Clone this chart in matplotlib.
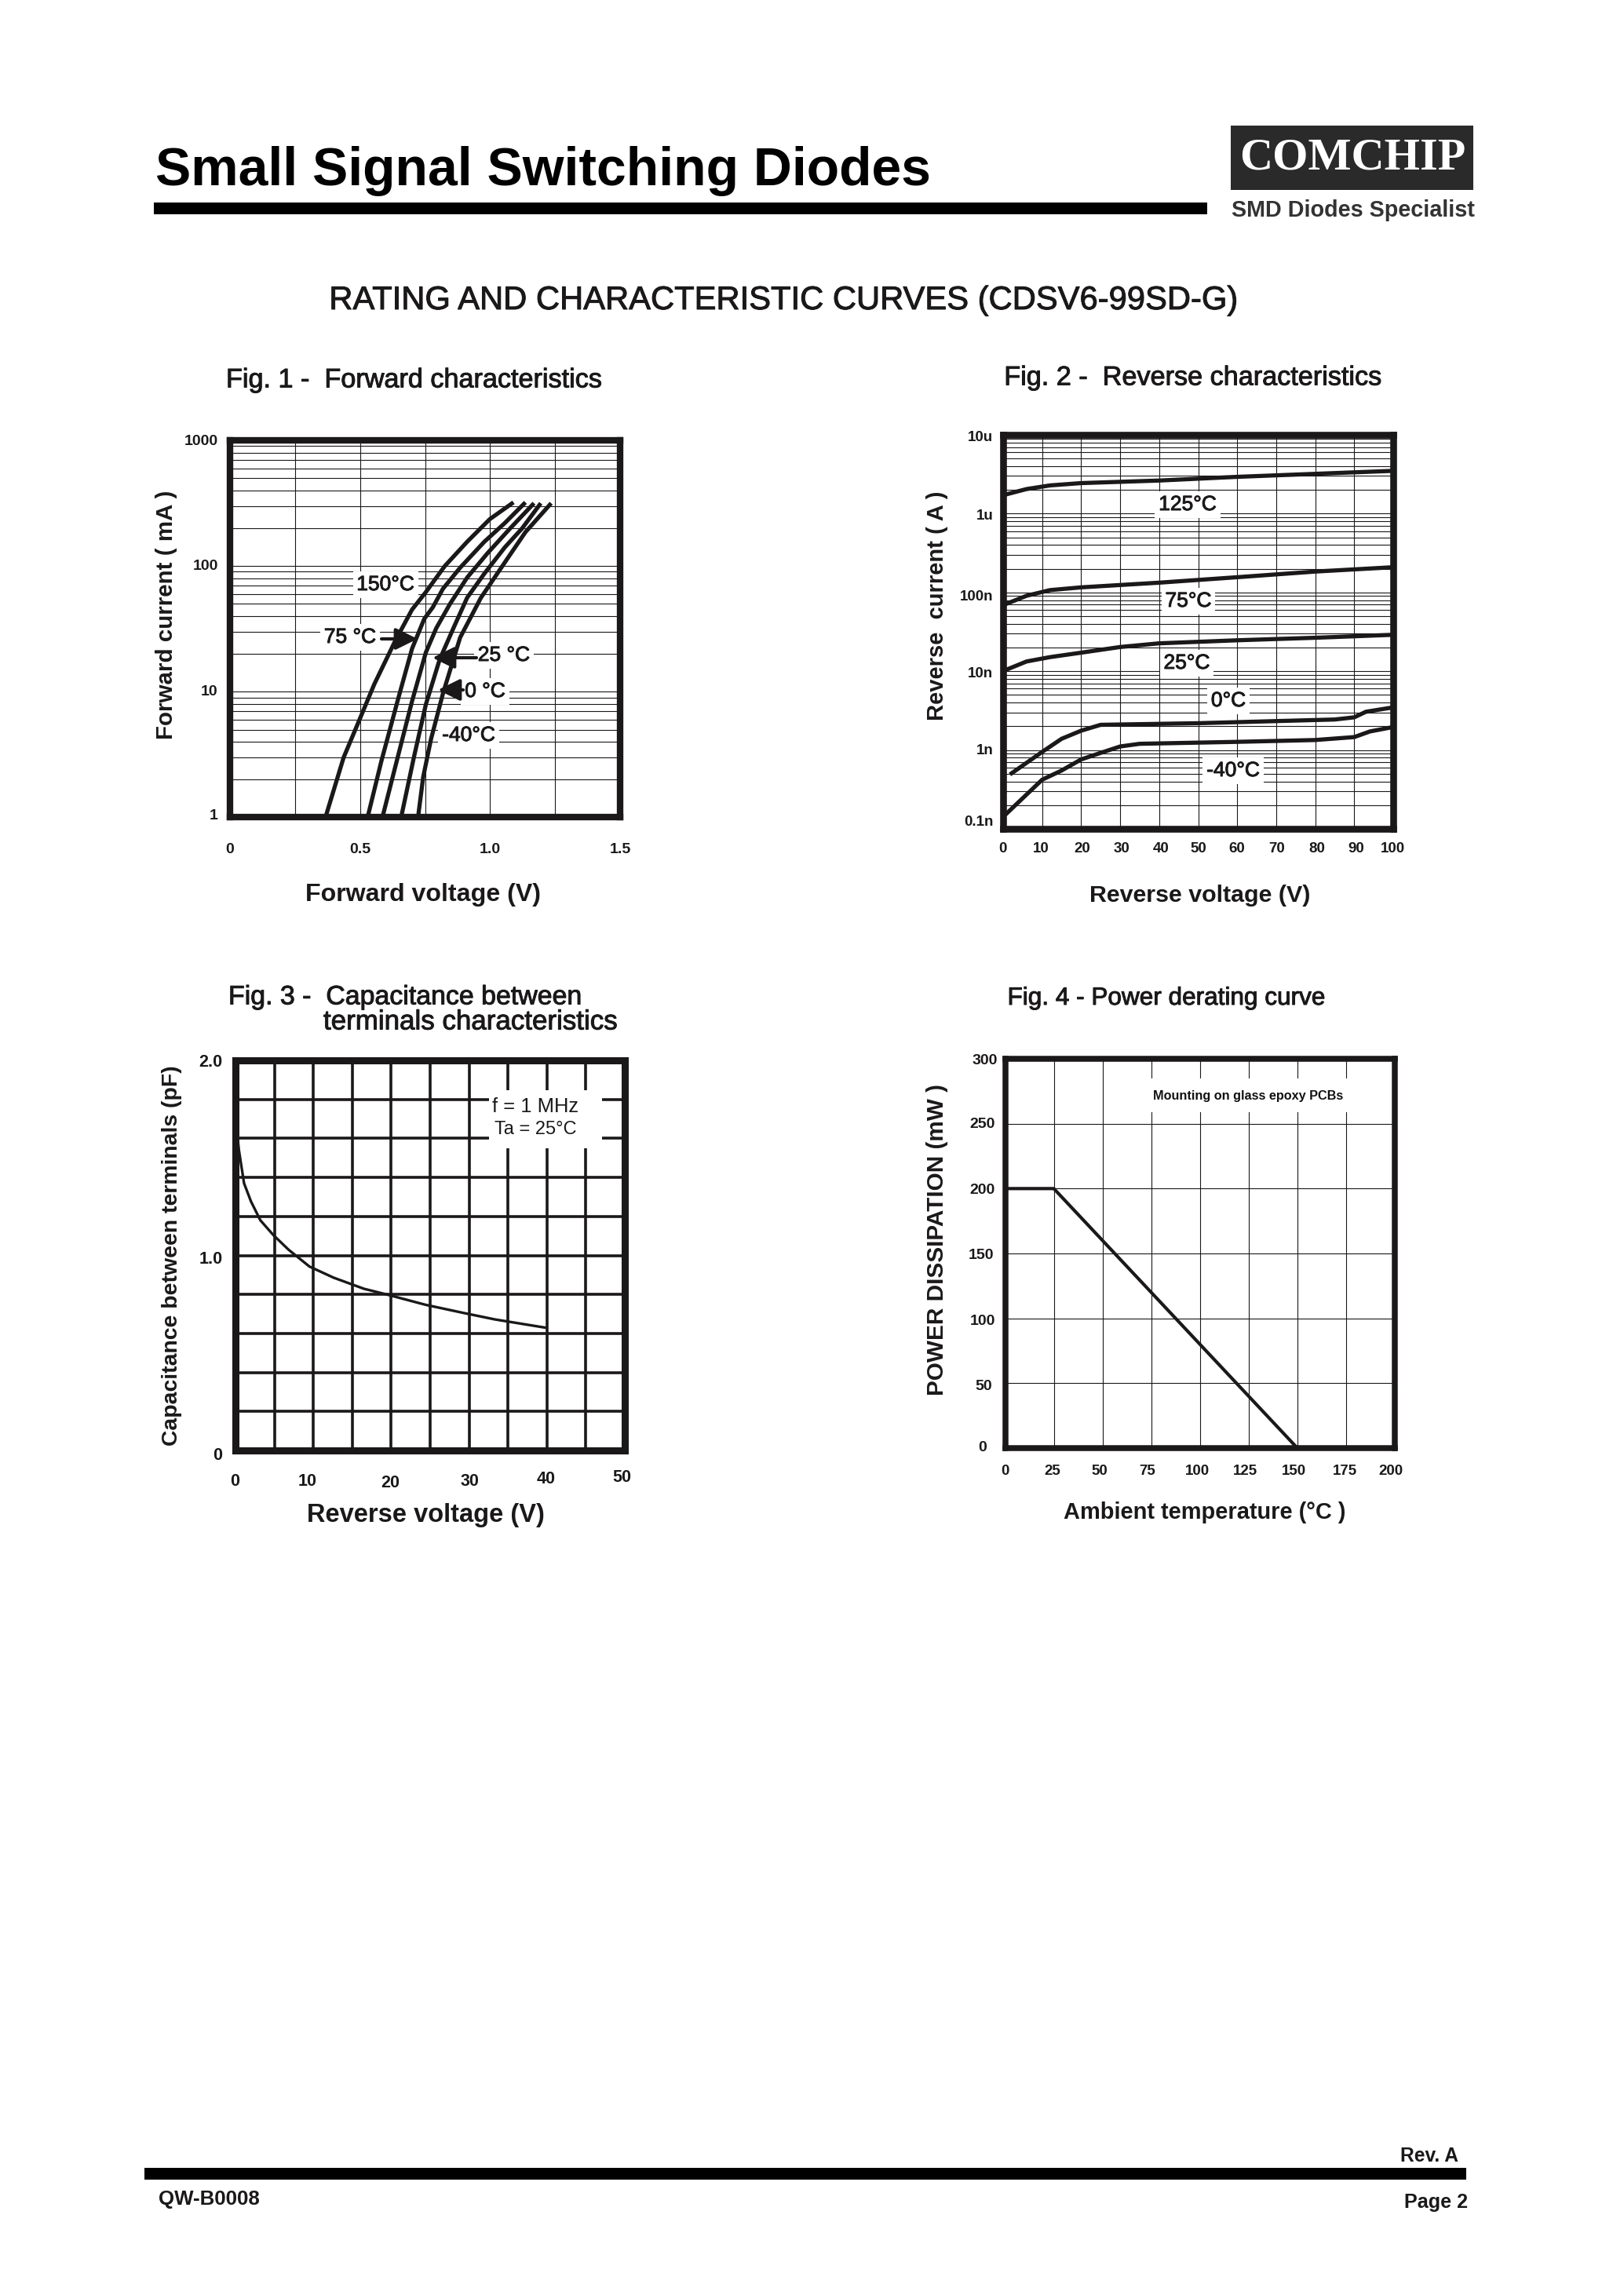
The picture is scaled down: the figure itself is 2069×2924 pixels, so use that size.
import matplotlib
matplotlib.use("Agg")
import matplotlib.pyplot as plt
import matplotlib.patheffects as pe
from matplotlib.patches import Rectangle, FancyArrowPatch
from matplotlib.transforms import Affine2D
from matplotlib.ticker import FixedLocator, NullFormatter

plt.rcParams['font.family'] = ['Liberation Sans', 'DejaVu Sans']

W, H = 2069, 2924
INK = '#1a1818'

# ---- Fig. 1 data: forward voltage (V) / forward current (mA)
f150_v = [0.367, 0.437, 0.492, 0.555, 0.635, 0.700, 0.753, 0.826, 0.912, 0.999, 1.090]
f150_i = [1, 3.0, 5.6, 11.5, 25.3, 45, 62, 100, 156, 236, 321]
f75_v = [0.529, 0.582, 0.648, 0.700, 0.747, 0.780, 0.819, 0.885, 0.978, 1.057, 1.136]
f75_i = [1, 2.8, 9, 22, 38, 47, 66, 97, 156, 220, 321]
f25_v = [0.586, 0.641, 0.700, 0.753, 0.793, 0.846, 0.912, 0.991, 1.077, 1.169]
f25_i = [1, 2.8, 8.4, 20.5, 32, 50, 81, 127, 199, 316]
f0_v = [0.658, 0.707, 0.753, 0.806, 0.859, 0.912, 0.978, 1.057, 1.123, 1.195]
f0_i = [1, 3, 7.9, 18, 32, 56, 87, 141, 199, 316]
fm40_v = [0.723, 0.743, 0.773, 0.819, 0.885, 0.965, 1.057, 1.136, 1.235]
fm40_i = [1, 2.1, 4.2, 9.7, 27, 56, 107, 186, 316]
f1_xticks = [0, 0.5, 1.0, 1.5]
f1_xticklabels = ['0', '0.5', '1.0', '1.5']
f1_yticks = [1, 10, 100, 1000]
f1_yticklabels = ['1', '10', '100', '1000']

# ---- Fig. 2 data: reverse voltage (V) / reverse current (A)
r125_v = [0.5, 6, 12, 20, 40, 60, 80, 100]
r125_i = [1.74e-6, 2.05e-6, 2.28e-6, 2.44e-6, 2.63e-6, 2.93e-6, 3.2e-6, 3.49e-6]
r75_v = [0.5, 6, 12, 20, 40, 60, 80, 100]
r75_i = [7.06e-8, 9.07e-8, 1.07e-7, 1.16e-7, 1.33e-7, 1.56e-7, 1.84e-7, 2.09e-7]
r25_v = [0.5, 6, 12, 20, 30, 40, 60, 80, 100]
r25_i = [1.03e-8, 1.33e-8, 1.51e-8, 1.72e-8, 2.03e-8, 2.26e-8, 2.47e-8, 2.66e-8, 2.9e-8]
r0_v = [1.75, 10, 15, 20, 25, 50, 70, 85, 90, 93, 100]
r0_i = [4.9e-10, 9.46e-10, 1.39e-9, 1.76e-9, 2.09e-9, 2.19e-9, 2.33e-9, 2.44e-9, 2.6e-9, 3.06e-9, 3.48e-9]
rm40_v = [0.5, 10, 15, 20, 25, 30, 35, 60, 80, 90, 94, 100]
rm40_i = [1.5e-10, 4.2e-10, 5.5e-10, 7.6e-10, 9.2e-10, 1.11e-9, 1.2e-9, 1.27e-9, 1.34e-9, 1.46e-9, 1.72e-9, 1.96e-9]
f2_xticks = [0, 10, 20, 30, 40, 50, 60, 70, 80, 90, 100]
f2_yticks = [1e-5, 1e-6, 1e-7, 1e-8, 1e-9, 1e-10]
f2_yticklabels = ['10u', '1u', '100n', '10n', '1n', '0.1n']

# ---- Fig. 3 data: reverse voltage (V) / capacitance (pF)
c_v = [0, 0.44, 1.1, 2, 3.2, 4.85, 6.8, 9.5, 12.6, 16.5, 19.4, 24.4, 29.3, 33.3, 39.9]
c_pf = [1.705, 1.54, 1.37, 1.276, 1.18, 1.105, 1.03, 0.943, 0.886, 0.829, 0.80, 0.747, 0.705, 0.672, 0.629]
f3_xticks = [0, 10, 20, 30, 40, 50]
f3_yticks = [0, 1.0, 2.0]
f3_yticklabels = ['0', '1.0', '2.0']

# ---- Fig. 4 data: ambient temperature (C) / power dissipation (mW)
p_t = [0, 25, 150]
p_mw = [200, 200, 0]
f4_xticks = [0, 25, 50, 75, 100, 125, 150, 175, 200]
f4_yticks = [0, 50, 100, 150, 200, 250, 300]

fig = plt.figure(figsize=(W / 100, H / 100), dpi=100, facecolor='white')
HEAVY = [pe.withStroke(linewidth=0.7, foreground=INK)]


def fx(x):
    return x / W


def fy(y):
    return 1 - y / H


def put(s, xc, yc, width=None, size=14, rotation=0, weight='bold', ha='center', color=INK, heavy=False, **kw):
    t = fig.text(fx(xc), fy(yc), s, ha=ha, va='center', rotation=rotation, fontsize=size,
                 fontweight=weight, color=color, **kw)
    if width:
        r = fig.canvas.get_renderer()
        e = t.get_window_extent(r)
        cur = e.height if rotation == 90 else e.width
        t.set_fontsize(size * width / cur)
    if heavy:
        t.set_path_effects(HEAVY)
    return t


def make_ax(l, t, r, b, border):
    ax = fig.add_axes([fx(l), fy(b), (r - l) / W, (b - t) / H])
    for s in ax.spines.values():
        s.set_linewidth(border)
        s.set_color(INK)
        s.set_zorder(6)
        s.set_capstyle('projecting')
    ax.set_axisbelow(True)
    ax.tick_params(which='both', length=0)
    return ax


def nudge(labels, dx=None, dy=None):
    for i, lab in enumerate(labels):
        a = dx[i] if dx else 0
        b = dy[i] if dy else 0
        lab.set_transform(lab.get_transform() + Affine2D().translate(a, -b))


def white_box(l, t, r, b):
    fig.add_artist(Rectangle((fx(l), fy(b)), (r - l) / W, (b - t) / H, transform=fig.transFigure,
                             fc='white', ec='none', zorder=2))


def label(s, xc, yc, size=19):
    fig.text(fx(xc), fy(yc), s, ha='center', va='center', fontsize=size, color=INK, zorder=5,
             bbox=dict(fc='white', ec='none', pad=3.5), path_effects=HEAVY)


def arrow(x0, y0, x1, y1):
    fig.add_artist(FancyArrowPatch(
        (fx(x0), fy(y0)), (fx(x1), fy(y1)), transform=fig.transFigure,
        arrowstyle='-|>,head_length=0.85,head_width=0.42', mutation_scale=20,
        lw=3.0, color=INK, shrinkA=0, shrinkB=0, zorder=7))


# ---- page furniture
fig.add_artist(Rectangle((fx(196), fy(273)), 1342 / W, 15 / H, transform=fig.transFigure, fc='black', ec='none'))
put('Small Signal Switching Diodes', 198, 218, width=987, size=40, ha='left', color='black')
fig.add_artist(Rectangle((fx(1568), fy(242)), 309 / W, 82 / H, transform=fig.transFigure, fc='#2a2a2a', ec='none'))
put('COMCHIP', 1723, 202, width=288, size=40, color='white', family='Liberation Serif')
put('SMD Diodes Specialist', 1724, 268, width=310, size=14, color='#333333')
put('RATING AND CHARACTERISTIC CURVES (CDSV6-99SD-G)', 999, 383, width=1157, size=28, weight='normal', heavy=True)

fig.add_artist(Rectangle((fx(184), fy(2777)), 1684 / W, 15 / H, transform=fig.transFigure, fc='black', ec='none'))
put('Rev. A', 1821, 2747, width=74, size=16)
put('QW-B0008', 266, 2802, width=129, size=16)
put('Page 2', 1830, 2806, width=81, size=16)

# ---- Fig. 1
ax = make_ax(293, 561, 790, 1041.5, 6.0)
for v, i in [(f150_v, f150_i), (f75_v, f75_i), (f25_v, f25_i), (f0_v, f0_i), (fm40_v, fm40_i)]:
    ax.plot(v, i, color=INK, lw=3.8, zorder=4, solid_joinstyle='round', solid_capstyle='butt')
ax.set_yscale('log')
ax.set_xlim(0, 1.5)
ax.set_ylim(1, 1000)
ax.set_xticks(f1_xticks, f1_xticklabels, fontsize=14, fontweight='bold', color=INK)
ax.xaxis.set_minor_locator(FixedLocator([0.25, 0.75, 1.25]))
ax.set_yticks(f1_yticks, f1_yticklabels, fontsize=14, fontweight='bold', color=INK)
ax.yaxis.set_minor_locator(FixedLocator([m * d for d in (1, 10, 100) for m in range(2, 10)]))
ax.yaxis.set_minor_formatter(NullFormatter())
ax.xaxis.set_minor_formatter(NullFormatter())
ax.grid(True, which='both', color=INK, lw=0.8)
ax.tick_params(axis='x', which='major', pad=23.5)
ax.tick_params(axis='y', which='major', pad=11)
nudge(ax.get_yticklabels(), dy=[-4, -2, -2, 0])
put('Fig. 1 -  Forward characteristics', 527, 485, width=478, size=20, weight='normal', heavy=True)
put('Forward voltage (V)', 539, 1140, width=300, size=20)
put('Forward current ( mA )', 212, 783, width=317, size=20, rotation=90)
label('150°C', 491, 745)
label('75 °C', 446, 812)
label('25 °C', 642, 835)
label('0 °C', 618, 881)
label('-40°C', 597, 937)
arrow(486, 814, 532, 814)
arrow(607, 838, 551, 838)
arrow(590, 879, 558, 879)

# ---- Fig. 2
ax = make_ax(1278, 554, 1775, 1056, 6.2)
for v, i in [(r125_v, r125_i), (r75_v, r75_i), (r25_v, r25_i), (r0_v, r0_i), (rm40_v, rm40_i)]:
    ax.plot(v, i, color=INK, lw=3.8, zorder=4, solid_joinstyle='round', solid_capstyle='butt')
ax.set_yscale('log')
ax.set_xlim(0, 100)
ax.set_ylim(1e-10, 1e-5)
ax.set_xticks(f2_xticks, [str(t) for t in f2_xticks], fontsize=13.5, fontweight='bold', color=INK)
ax.set_yticks(f2_yticks, f2_yticklabels, fontsize=13.5, fontweight='bold', color=INK)
ax.yaxis.set_minor_locator(FixedLocator([m * 10.0 ** e for e in range(-10, -5) for m in range(2, 10)]))
ax.yaxis.set_minor_formatter(NullFormatter())
ax.grid(True, which='both', color=INK, lw=0.8)
ax.tick_params(axis='x', which='major', pad=12.6)
ax.tick_params(axis='y', which='major', pad=9)
nudge(ax.get_xticklabels(), dx=[-1, -1, 1, 2, 2, 0, 0, 1, 2, 2, -1])
nudge(ax.get_yticklabels(), dy=[2, 1, 4, 1, -1, -10])
put('Fig. 2 -  Reverse characteristics', 1520, 482, width=480, size=20, weight='normal', heavy=True)
put('Reverse voltage (V)', 1529, 1141, width=282, size=20)
put('Reverse  current ( A )', 1194, 772, width=293, size=20, rotation=90)
label('125°C', 1513, 643)
label('75°C', 1514, 766)
label('25°C', 1512, 845)
label('0°C', 1565, 893)
label('-40°C', 1571, 982)

# ---- Fig. 3
ax = make_ax(300, 1351, 796, 1848, 6.5)
ax.plot(c_v, c_pf, color=INK, lw=2.4, zorder=4, solid_joinstyle='round', solid_capstyle='butt')
ax.set_xlim(0, 50)
ax.set_ylim(0, 2)
ax.set_xticks(f3_xticks, [str(t) for t in f3_xticks], fontsize=15.5, fontweight='bold', color=INK)
ax.set_yticks(f3_yticks, f3_yticklabels, fontsize=15.5, fontweight='bold', color=INK)
ax.xaxis.set_minor_locator(FixedLocator([5, 15, 25, 35, 45]))
ax.yaxis.set_minor_locator(FixedLocator([0.2, 0.4, 0.6, 0.8, 1.2, 1.4, 1.6, 1.8]))
ax.xaxis.set_minor_formatter(NullFormatter())
ax.yaxis.set_minor_formatter(NullFormatter())
ax.grid(True, which='both', color=INK, lw=2.6)
ax.tick_params(axis='x', which='major', pad=21)
ax.tick_params(axis='y', which='major', pad=12)
nudge(ax.get_xticklabels(), dx=[-1, -8, -1, 1, -1, -4], dy=[0, 0, 2, 0, -3, -5])
nudge(ax.get_yticklabels(), dy=[4, 3, 0])
put('Fig. 3 -  Capacitance between', 291, 1271, width=449, size=20, weight='normal', ha='left', heavy=True)
put('terminals characteristics', 412, 1302, width=374, size=20, weight='normal', ha='left', heavy=True)
put('Reverse voltage (V)', 542, 1931, width=302, size=20)
put('Capacitance between terminals (pF)', 219, 1600, width=484, size=18, rotation=90)
white_box(623, 1389, 767, 1463)
put('f = 1 MHz', 682, 1410, width=110, size=16, weight='normal', zorder=5)
put('Ta = 25°C', 682, 1439, width=105, size=16, weight='normal', zorder=5)

# ---- Fig. 4
ax = make_ax(1280.5, 1349, 1777, 1845, 5.4)
ax.plot(p_t, p_mw, color=INK, lw=3.0, zorder=4, solid_joinstyle='miter', solid_capstyle='butt')
ax.set_xlim(0, 200)
ax.set_ylim(0, 300)
ax.set_xticks(f4_xticks, [str(t) for t in f4_xticks], fontsize=13.5, fontweight='bold', color=INK)
ax.set_yticks(f4_yticks, [str(t) for t in f4_yticks], fontsize=14, fontweight='bold', color=INK)
ax.grid(True, which='both', color=INK, lw=0.8)
ax.tick_params(axis='x', which='major', pad=15)
ax.tick_params(axis='y', which='major', pad=9)
nudge(ax.get_xticklabels(), dx=[0, -2, -3.5, -5, -3, -4.5, -4, -2, -5])
nudge(ax.get_yticklabels(), dx=[-11, -4, 0, -2, 0, 0, 3], dy=[-3, 2, 2, 0, 0, -1, 0])
put('Fig. 4 - Power derating curve', 1486, 1272, width=404, size=20, weight='normal', heavy=True)
put('Ambient temperature (°C )', 1535, 1927, width=360, size=20)
put('POWER DISSIPATION (mW )', 1194, 1580, width=397, size=20, rotation=90)
white_box(1450, 1374, 1735, 1417)
put('Mounting on glass epoxy PCBs', 1590, 1396, width=243, size=10, zorder=5, color='#111111')

fig.savefig('out.png', dpi=100, facecolor='white')
